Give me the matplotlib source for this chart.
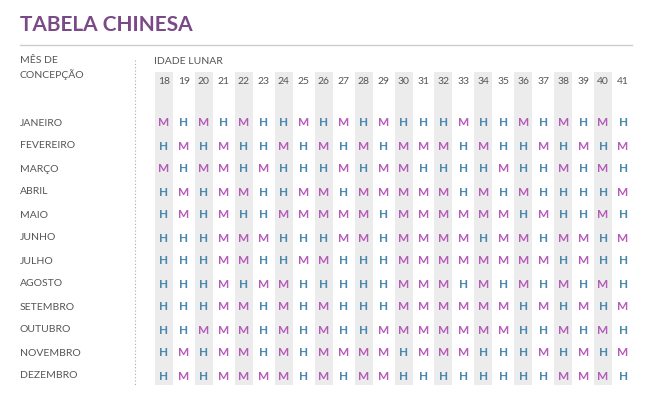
import matplotlib
matplotlib.use("Agg")
import matplotlib.pyplot as plt
from matplotlib.patches import Rectangle

title = "TABELA CHINESA"
ages = list(range(18, 42))
months = ["JANEIRO", "FEVEREIRO", "MARÇO", "ABRIL", "MAIO", "JUNHO", "JULHO",
          "AGOSTO", "SETEMBRO", "OUTUBRO", "NOVEMBRO", "DEZEMBRO"]
grid = [
    "MHMHMHHMHMHMHHHMHHMHMHMH",
    "HMHMHHMHMHMHMMMHMHHMHMHM",
    "MHMMHMHHHMHMMHHHHMHHMHMH",
    "HMHMMHHMMHMMMMMHMHMHHHHM",
    "HMHMHHMMMMMHMMMMMMHMHHMH",
    "HHHMMMHHHMMHMMMMHMMHMMHM",
    "HHHMMHHMMHHHMMMMMMMMHMHH",
    "HHHMHMMHHHHHMMMHMHMHMHMH",
    "HHHMMHMHMHHHMMMMMMHMHMHM",
    "HHMMMHMHMHHMMMMMMMHHMHMH",
    "HMHMMHMHMMMMHMMMHHHMHMHM",
    "HMHMMMMHMHMMHHHHHHHHMMMH",
]

W, H = 652, 408
fig = plt.figure(figsize=(W/100, H/100), dpi=100)
ax = fig.add_axes([0, 0, 1, 1])
ax.set_xlim(0, W); ax.set_ylim(H, 0); ax.axis("off")

font = "Lato"
purple = "#7a4a86"
gray = "#555555"
cM = "#b45ab8"
cH = "#4a87ad"

ax.text(20, 25, title, fontsize=15, color=purple, fontfamily=font, va="center", fontweight="bold")
ax.plot([20, 632], [45, 45], color="#cccccc", lw=1)
ax.text(20, 68, "MÊS DE\nCONCEPÇÃO", fontsize=7.5, color=gray, fontfamily=font, va="center", linespacing=1.5)
ax.plot([135, 135], [60, 385], color="#aaaaaa", lw=0.8, ls=(0, (1, 2)))
ax.text(154, 61, "IDADE LUNAR", fontsize=7.5, color=gray, fontfamily=font, va="center")

x0, dx = 164, 19.96
y0, dy = 123, 23.0
for j, a in enumerate(ages):
    x = x0 + j*dx
    if j % 2 == 0:
        ax.add_patch(Rectangle((x - 9, 72), 18, 313, color="#ececec", lw=0))
    ax.text(x, 81, str(a), fontsize=7.5, color=gray, fontfamily=font, ha="center", va="center")
for i, m in enumerate(months):
    y = y0 + i*dy
    ax.text(20, y, m, fontsize=7.5, color=gray, fontfamily=font, va="center")
    for j, ch in enumerate(grid[i]):
        ax.text(x0 + j*dx, y, ch, fontsize=8.5, fontweight="bold", fontfamily=font,
                color=cM if ch == "M" else cH, ha="center", va="center")

fig.savefig("out.png", dpi=100, facecolor="white")
